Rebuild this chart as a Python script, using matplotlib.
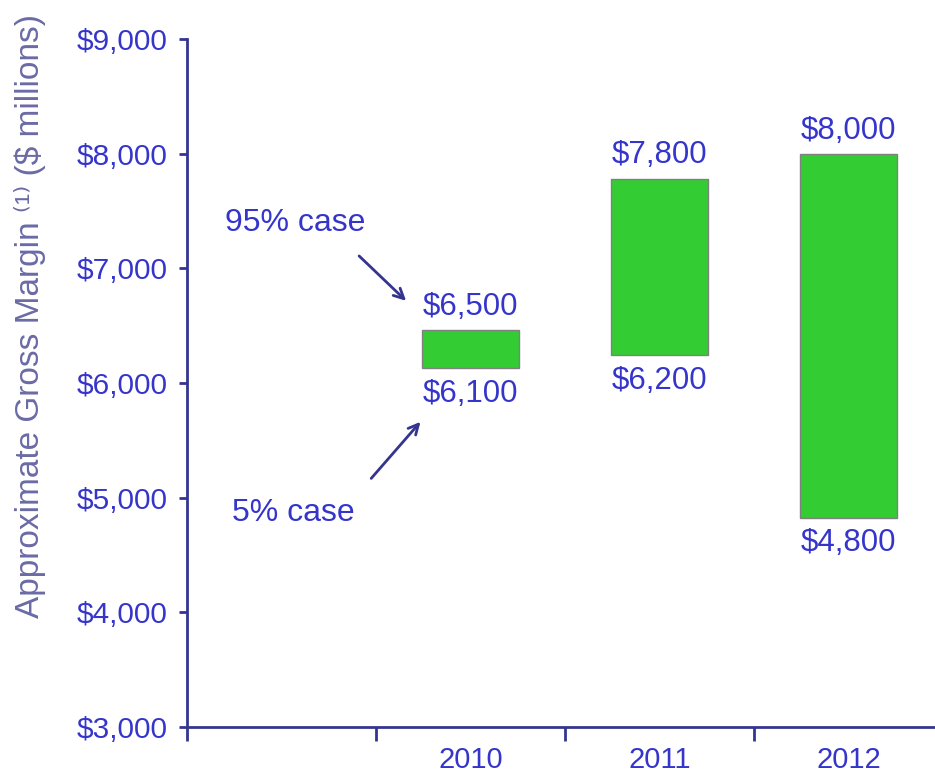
import matplotlib
matplotlib.use("Agg")
import matplotlib.pyplot as plt

years = ["2010", "2011", "2012"]
low_values = [6130, 6245, 4825]
high_values = [6460, 7780, 7995]
high_labels = ["$6,500", "$7,800", "$8,000"]
low_labels = ["$6,100", "$6,200", "$4,800"]
y_ticks = [3000, 4000, 5000, 6000, 7000, 8000, 9000]

AXIS = "#35358f"
TEXT = "#3535cc"
FONT = ["Liberation Sans", "DejaVu Sans"]

plt.rcParams["font.family"] = FONT

fig = plt.figure(figsize=(9.35, 7.76), dpi=100)
ax = fig.add_axes([0.2, 0.0631, 0.8, 0.8866])

pos = [i + 1.5 for i in range(len(years))]
heights = [h - l for h, l in zip(high_values, low_values)]
ax.bar(pos, heights, bottom=low_values, width=0.51,
       color="#33cc33", edgecolor="#808080", linewidth=1.0)

for x, lo, hi, lt, ht in zip(pos, low_values, high_values, low_labels, high_labels):
    ax.annotate(ht, (x, hi), xytext=(0, 17), textcoords="offset points",
                ha="center", va="center", color=TEXT, fontsize=22.5)
    ax.annotate(lt, (x, lo), xytext=(0, -18.5), textcoords="offset points",
                ha="center", va="center", color=TEXT, fontsize=22.5)

# callouts for the 95% / 5% cases
arrow = dict(arrowstyle="->", color=AXIS, lw=2, mutation_scale=18)
ax.annotate("", xy=(1.17, 6700), xytext=(0.90, 7125), arrowprops=arrow)
ax.text(0.57, 7395, "95% case", ha="center", va="center", color=TEXT, fontsize=23)
ax.annotate("", xy=(1.245, 5680), xytext=(0.965, 5150), arrowprops=arrow)
ax.text(0.56, 4865, "5% case", ha="center", va="center", color=TEXT, fontsize=23)

ax.set_xlim(0, (935 - 187) / 189)
ax.set_ylim(3000, 9000)

ax.set_yticks(y_ticks)
ax.set_yticklabels(["${:,}".format(v) for v in y_ticks])
ax.set_xticks([0, 1, 2, 3])
ax.set_xticklabels([])
ax.set_xticks(pos, minor=True)
ax.set_xticklabels(years, minor=True)

ax.tick_params(axis="y", colors=AXIS, labelcolor=TEXT, labelsize=21.5,
               length=6, width=2, pad=8)
ax.tick_params(axis="x", which="major", colors=AXIS, length=10, width=2)
ax.tick_params(axis="x", which="minor", length=0, labelcolor=TEXT,
               labelsize=21, pad=14)

for side in ["top", "right"]:
    ax.spines[side].set_visible(False)
for side in ["left", "bottom"]:
    ax.spines[side].set_color(AXIS)
    ax.spines[side].set_linewidth(2)

fig.text(0.032, 0.593, "Approximate Gross Margin \u207d\u00b9\u207e ($ millions)",
         rotation=90, ha="center", va="center", color="#6a6aa6", fontsize=24)

fig.savefig("out.png", dpi=100)
